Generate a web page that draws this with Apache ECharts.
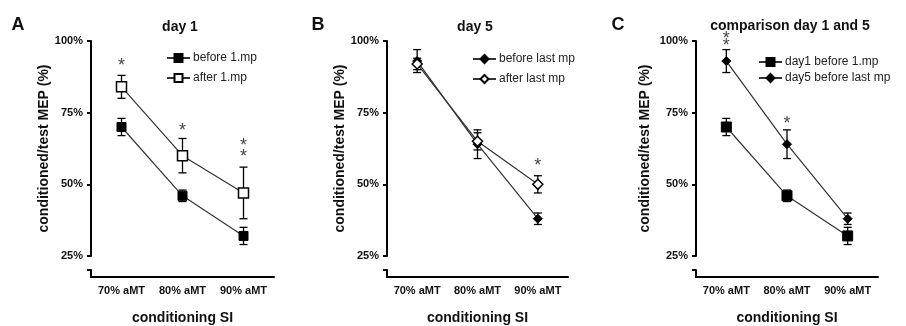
<!DOCTYPE html>
<html>
<head>
<meta charset="utf-8">
<script src="https://cdn.jsdelivr.net/npm/echarts@6/dist/echarts.min.js"></script>
<style>
  html, body { margin: 0; padding: 0; background: #fff; }
  #chart { width: 906px; height: 326px; }
</style>
</head>
<body>
<div id="chart"></div>
<script>
// categories and tick labels
const categories = ["70% aMT", "80% aMT", "90% aMT"];
const yTicks = [25, 50, 75, 100];

// day 1 (mean, error)
const day1Before = [70, 46, 32];
const day1BeforeErr = [3, 2, 3];
const day1After = [84, 60, 47];
const day1AfterErr = [4, 6, 9];

// day 5 (mean, error)
const day5Before = [93, 64, 38];
const day5BeforeErr = [4, 5, 2];
const day5After = [92, 65, 50];
const day5AfterErr = [2, 3, 3];

// significance stars [category index, y]
const starsA = [[0, 91.9], [1, 69.3], [2, 63.9], [2, 60.1]];
const starsB = [[2, 57.2]];
const starsC = [[0, 101.4], [0, 99.1], [1, 71.6]];

const FONT = "Liberation Sans, Arial, sans-serif";

// panel layout: left edge of axis, plot width, top, y-title gap
const panels = [
  { left: 91, width: 183, top: 41, nameGap: 39 },
  { left: 387, width: 181, top: 41, nameGap: 40 },
  { left: 696, width: 182, top: 41, nameGap: 44 },
];

const grid = [];
const xAxis = [];
const yAxis = [];

panels.forEach((p, i) => {
  // upper plot area
  grid.push({ left: p.left, top: p.top, width: p.width, height: 256 - p.top });
  // lower strip (broken axis + x axis)
  grid.push({ left: p.left, top: 270, width: p.width, height: 12 });

  xAxis.push({
    type: "category",
    gridIndex: i * 2,
    data: categories,
    boundaryGap: true,
    show: false,
  });
  xAxis.push({
    type: "category",
    gridIndex: i * 2 + 1,
    data: categories,
    boundaryGap: true,
    axisLine: { lineStyle: { color: "#000", width: 2 } },
    axisTick: { alignWithLabel: true, length: 4, lineStyle: { color: "#000", width: 2 } },
    axisLabel: { interval: 0, color: "#111", fontFamily: FONT, fontSize: 11, fontWeight: "bold", margin: 8 },
    name: "conditioning SI",
    nameLocation: "middle",
    nameGap: 34,
    nameTextStyle: { color: "#111", fontFamily: FONT, fontSize: 14, fontWeight: "bold" },
  });

  yAxis.push({
    type: "value",
    gridIndex: i * 2,
    min: 25,
    max: 100,
    interval: 25,
    axisLine: { show: true, lineStyle: { color: "#000", width: 2 } },
    axisTick: { show: true, length: 4, lineStyle: { color: "#000", width: 2 } },
    splitLine: { show: false },
    axisLabel: {
      formatter: "{value}%",
      color: "#111",
      fontFamily: FONT,
      fontSize: 11,
      fontWeight: "bold",
      margin: 8,
    },
    name: "conditioned/test MEP (%)",
    nameLocation: "middle",
    nameGap: p.nameGap,
    nameTextStyle: { color: "#111", fontFamily: FONT, fontSize: 14, fontWeight: "bold" },
  });
  yAxis.push({
    type: "value",
    gridIndex: i * 2 + 1,
    min: 0,
    max: 1,
    interval: 1,
    axisLine: { show: true, lineStyle: { color: "#000", width: 2 } },
    axisTick: { show: true, length: 4, customValues: [1], lineStyle: { color: "#000", width: 2 } },
    axisLabel: { show: false },
    splitLine: { show: false },
  });
});

// error bars via custom series
const errRender = (params, api) => {
  const x = api.value(0);
  const y = api.value(1);
  const e = api.value(2);
  const top = api.coord([x, y + e]);
  const bot = api.coord([x, y - e]);
  const w = 4;
  const style = { stroke: "#000", lineWidth: 1.3 };
  return {
    type: "group",
    children: [
      { type: "line", shape: { x1: top[0], y1: top[1], x2: bot[0], y2: bot[1] }, style },
      { type: "line", shape: { x1: top[0] - w, y1: top[1], x2: top[0] + w, y2: top[1] }, style },
      { type: "line", shape: { x1: bot[0] - w, y1: bot[1], x2: bot[0] + w, y2: bot[1] }, style },
    ],
  };
};

const errSeries = (vals, errs, panel) => ({
  type: "custom",
  xAxisIndex: panel * 2,
  yAxisIndex: panel * 2,
  renderItem: errRender,
  data: vals.map((v, i) => [i, v, errs[i]]),
  z: 1,
  silent: true,
});

const lineSeries = (name, vals, panel, symbol, size, hollow) => ({
  name,
  type: "line",
  xAxisIndex: panel * 2,
  yAxisIndex: panel * 2,
  data: vals,
  symbol,
  symbolSize: size,
  showAllSymbol: true,
  lineStyle: { color: "#333", width: 1.2 },
  itemStyle: hollow
    ? { color: "#fff", borderColor: "#000", borderWidth: 1.5 }
    : { color: "#000", borderColor: "#000", borderWidth: 1 },
  z: 3,
  animation: false,
});

const starSeries = (pts, panel) => ({
  type: "scatter",
  xAxisIndex: panel * 2,
  yAxisIndex: panel * 2,
  data: pts,
  symbolSize: 0,
  clip: false,
  silent: true,
  label: {
    show: true,
    position: "inside",
    formatter: "*",
    color: "#111",
    fontFamily: FONT,
    fontSize: 18,
    offset: [0, 2],
  },
  z: 4,
});

const legendBase = {
  orient: "vertical",
  itemWidth: 23,
  itemHeight: 10,
  textStyle: { color: "#222", fontFamily: FONT, fontSize: 12, padding: [0, 0, 0, -2] },
  selectedMode: false,
  padding: 0,
};

const titleText = (text, x, y, size) => ({
  text,
  left: x,
  top: y,
  textAlign: "center",
  padding: 0,
  textStyle: { color: "#111", fontFamily: FONT, fontSize: size, fontWeight: "bold" },
});

const option = {
  backgroundColor: "#fff",
  animation: false,
  title: [
    titleText("A", 18, 16, 18),
    titleText("B", 318, 16, 18),
    titleText("C", 618, 16, 18),
    titleText("day 1", 180, 20, 14),
    titleText("day 5", 475, 20, 14),
    titleText("comparison day 1 and 5", 790, 19, 14),
  ],
  legend: [
    { ...legendBase, left: 166, top: 52, itemGap: 8, data: ["before 1.mp", "after 1.mp"] },
    { ...legendBase, left: 472, top: 53, itemGap: 8, data: ["before last mp", "after last mp"] },
    { ...legendBase, left: 758, top: 56, itemGap: 4, data: ["day1 before 1.mp", "day5 before last mp"] },
  ],
  grid,
  xAxis,
  yAxis,
  series: [
    errSeries(day1Before, day1BeforeErr, 0),
    errSeries(day1After, day1AfterErr, 0),
    lineSeries("before 1.mp", day1Before, 0, "rect", 9, false),
    lineSeries("after 1.mp", day1After, 0, "rect", 10, true),
    starSeries(starsA, 0),

    errSeries(day5Before, day5BeforeErr, 1),
    errSeries(day5After, day5AfterErr, 1),
    lineSeries("before last mp", day5Before, 1, "diamond", 9, false),
    lineSeries("after last mp", day5After, 1, "diamond", 10, true),
    starSeries(starsB, 1),

    errSeries(day1Before, day1BeforeErr, 2),
    errSeries(day5Before, day5BeforeErr, 2),
    lineSeries("day1 before 1.mp", day1Before, 2, "rect", 10, false),
    lineSeries("day5 before last mp", day5Before, 2, "diamond", 9, false),
    starSeries(starsC, 2),
  ],
};

const chart = echarts.init(document.getElementById("chart"));
chart.setOption(option);
</script>
</body>
</html>
